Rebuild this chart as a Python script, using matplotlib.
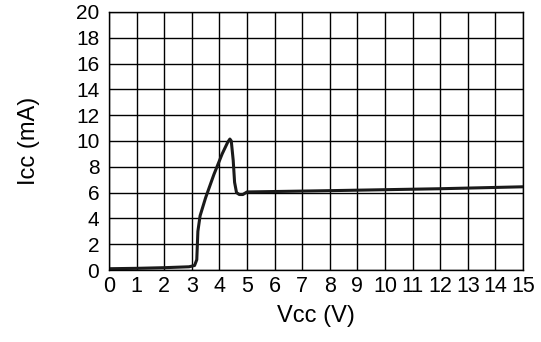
import matplotlib
matplotlib.use("Agg")
import matplotlib.pyplot as plt
import numpy as np

plt.rcParams['font.family'] = ['Liberation Sans', 'DejaVu Sans']

vcc = [0.0, 1.0, 2.0, 2.9, 3.1, 3.18, 3.22, 3.3, 3.5, 3.8, 4.1, 4.3, 4.38, 4.43, 4.5, 4.55, 4.62, 4.72, 4.85, 5.0, 8.0, 12.0, 15.0]
icc = [0.1, 0.13, 0.18, 0.25, 0.35, 0.8, 3.0, 4.2, 5.6, 7.4, 9.0, 9.9, 10.15, 10.0, 8.5, 6.8, 6.0, 5.85, 5.85, 6.05, 6.15, 6.3, 6.45]

xticks = list(range(0, 16))
yticks = list(range(0, 21, 2))

fig = plt.figure(figsize=(5.41, 3.42), dpi=100)
ax = fig.add_axes([0.2015, 0.2105, 0.7652, 0.7545])
ax.plot(vcc, icc, color='#1a1a1a', lw=2.2, solid_joinstyle='round')
ax.set_xlim(0, 15)
ax.set_ylim(0, 20)
ax.set_xticks(xticks)
ax.set_yticks(yticks)
ax.set_xticklabels([str(t) for t in xticks], fontsize=15.5)
ax.set_yticklabels([str(t) for t in yticks], fontsize=15)
ax.tick_params(axis='x', length=0, pad=4)
ax.tick_params(axis='y', length=0, pad=7)
ax.grid(True, color='black', lw=1)
for s in ax.spines.values():
    s.set_color('black')
    s.set_linewidth(1)
ax.set_xlabel('Vcc (V)', fontsize=17, labelpad=6)
ax.set_ylabel('Icc (mA)', fontsize=17, labelpad=26)
fig.savefig('out.png', dpi=100)
